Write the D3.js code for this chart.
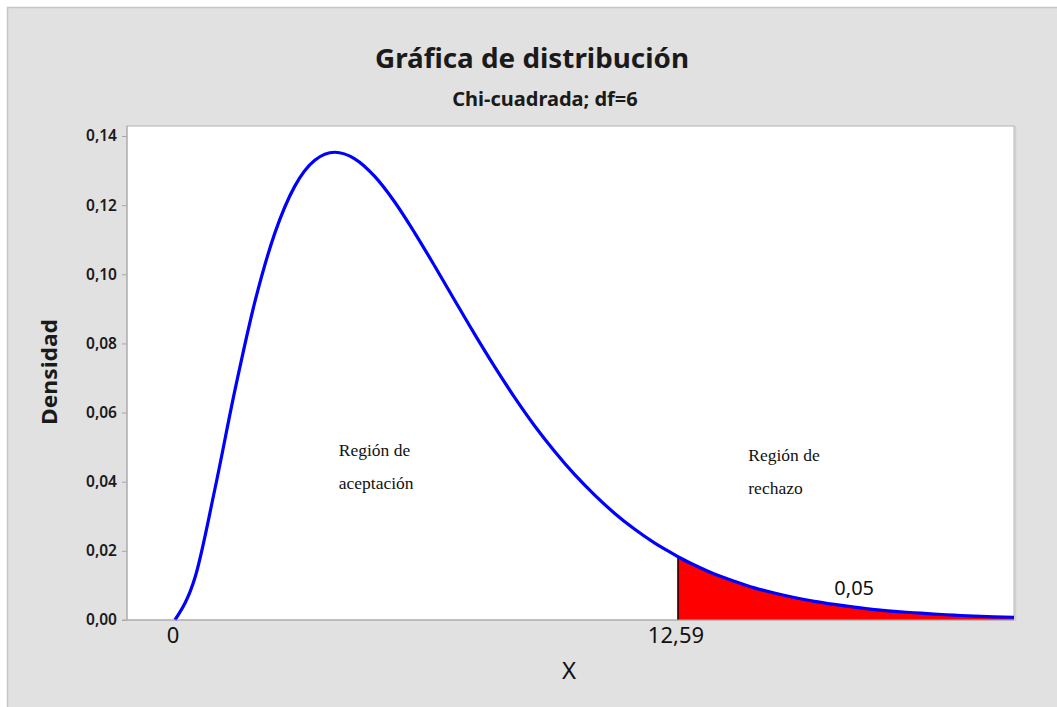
<!DOCTYPE html>
<html>
<head>
<meta charset="utf-8">
<script src="https://cdn.jsdelivr.net/npm/d3@7"></script>
<style>
  html, body { margin: 0; padding: 0; background: #ffffff; }
  svg { display: block; }
</style>
</head>
<body>
<svg id="chart" width="1057" height="707"></svg>
<script>
// ---- data ----
const xValues = [0,0.5,1,1.5,2,2.5,3,3.5,4,4.5,5,5.5,6,6.5,7,7.5,8,8.5,9,9.5,10,10.5,11,11.5,12,12.5,12.59,13,13.5,14,14.5,15,15.5,16,16.5,17,17.5,18,18.5,19,19.5,20,20.5,21];
const densityValues = [0,0.0122,0.0379,0.0664,0.0920,0.1119,0.1255,0.1330,0.1353,0.1334,0.1283,0.1209,0.1120,0.1024,0.0925,0.0827,0.0733,0.0644,0.0562,0.0488,0.0421,0.0362,0.0309,0.0263,0.0223,0.0189,0.0183,0.0159,0.0133,0.0112,0.0093,0.0078,0.0065,0.0054,0.0045,0.0037,0.0030,0.0025,0.0021,0.0017,0.0014,0.0011,0.0009,0.0008];
const yTickValues = [0,0.02,0.04,0.06,0.08,0.10,0.12,0.14];
const xTickValues = [0, 12.59];
const xTickLabels = ["0", "12,59"];
const criticalValue = 12.59;
const tailLabel = "0,05";
const titleText = "Gráfica de distribución";
const subtitleText = "Chi-cuadrada; df=6";
const xAxisTitle = "X";
const yAxisTitle = "Densidad";
const regionLabels = [
  {x: 4.1, y: 0.0475, lines: ["Región de", "aceptación"]},
  {x: 14.35, y: 0.0460, lines: ["Región de", "rechazo"]}
];

// ---- layout ----
const svg = d3.select("#chart");
const W = 1057, H = 707;
const plot = {left: 127, top: 126, right: 1014, bottom: 620};

const sans = "'Noto Sans', 'Open Sans', sans-serif";
const serif = "'Liberation Serif', 'DejaVu Serif', serif";
const locale = d3.formatLocale({decimal: ",", thousands: ".", grouping: [3], currency: ["", "€"]});
const fmt = locale.format(".2f");

// background
svg.append("rect").attr("x", 0).attr("y", 0).attr("width", W).attr("height", H).attr("fill", "#ffffff");
svg.append("rect").attr("x", 7.5).attr("y", 7.5).attr("width", W).attr("height", H)
  .attr("fill", "#e1e1e1").attr("stroke", "#c6c6c6").attr("stroke-width", 1.5);

// scales
const x = d3.scaleLinear().domain([-1.2, 21.0]).range([plot.left, plot.right]);
const y = d3.scaleLinear().domain([0, 0.14]).range([plot.bottom, 136]);

// plot area
svg.append("rect").attr("x", plot.left).attr("y", plot.top)
  .attr("width", plot.right - plot.left).attr("height", plot.bottom - plot.top)
  .attr("fill", "#ffffff").attr("stroke", "#b4b4b4").attr("stroke-width", 1);
svg.append("line").attr("x1", plot.right + 1.5).attr("x2", plot.right + 1.5)
  .attr("y1", plot.top).attr("y2", plot.bottom + 1).attr("stroke", "#cfcfcf").attr("stroke-width", 1.5);

const data = xValues.map((v, i) => ({x: v, y: densityValues[i]}));

// tail area
const tail = data.filter(d => d.x >= criticalValue);
const area = d3.area().x(d => x(d.x)).y0(y(0)).y1(d => y(d.y)).curve(d3.curveMonotoneX);
svg.append("path").datum(tail).attr("d", area).attr("fill", "#ff0000");

// critical line
const critY = densityValues[xValues.indexOf(criticalValue)];
svg.append("line").attr("x1", x(criticalValue)).attr("x2", x(criticalValue))
  .attr("y1", y(0)).attr("y2", y(critY)).attr("stroke", "#000000").attr("stroke-width", 1.5);

// curve
const line = d3.line().x(d => x(d.x)).y(d => y(d.y)).curve(d3.curveMonotoneX);
svg.append("path").datum(data).attr("d", line)
  .attr("fill", "none").attr("stroke", "#0000ff").attr("stroke-width", 3.2);

// y axis
const yAxis = d3.axisLeft(y).tickValues(yTickValues).tickFormat(fmt).tickSize(5).tickPadding(5);
const gy = svg.append("g").attr("transform", `translate(${plot.left},0)`).call(yAxis);
gy.select(".domain").attr("stroke", "#a9a9a9").attr("d", `M0,${plot.top}V${plot.bottom}`);
gy.selectAll(".tick line").attr("stroke", "#a9a9a9");
gy.selectAll(".tick text").attr("fill", "#1a1a1a").style("font-family", sans)
  .style("font-size", "15.5px").style("font-weight", "600");

// x axis (labels only)
const xAxis = d3.axisBottom(x).tickValues(xTickValues)
  .tickFormat((d, i) => xTickLabels[i]).tickSize(0).tickPadding(7);
const gx = svg.append("g").attr("transform", `translate(0,${plot.bottom})`).call(xAxis);
gx.select(".domain").attr("stroke", "#a9a9a9").attr("d", `M${plot.left - 5},0H${plot.right}`);
gx.selectAll(".tick text").attr("fill", "#111111").style("font-family", sans).style("font-size", "22px");
gx.selectAll(".tick").attr("transform", d => `translate(${x(d) - 2},0)`);

// titles
svg.append("text").attr("x", 532).attr("y", 68).attr("text-anchor", "middle")
  .style("font-family", sans).style("font-size", "27px").style("font-weight", "700")
  .attr("textLength", 314).attr("lengthAdjust", "spacingAndGlyphs")
  .attr("fill", "#1a1a1a").text(titleText);
svg.append("text").attr("x", 545).attr("y", 106).attr("text-anchor", "middle")
  .style("font-family", sans).style("font-size", "20px").style("font-weight", "700")
  .attr("fill", "#1a1a1a").text(subtitleText);
svg.append("text").attr("x", 569).attr("y", 679).attr("text-anchor", "middle")
  .style("font-family", sans).style("font-size", "24px")
  .attr("fill", "#111111").text(xAxisTitle);
svg.append("text").attr("transform", `translate(57,372) rotate(-90)`).attr("text-anchor", "middle")
  .style("font-family", sans).style("font-size", "22px").style("font-weight", "700")
  .attr("textLength", 106).attr("lengthAdjust", "spacingAndGlyphs")
  .attr("fill", "#1a1a1a").text(yAxisTitle);

// region labels
regionLabels.forEach(r => {
  const t = svg.append("text").attr("x", x(r.x)).attr("y", y(r.y))
    .style("font-family", serif).style("font-size", "17.5px").attr("fill", "#111111");
  r.lines.forEach((ln, i) => {
    t.append("tspan").attr("x", x(r.x)).attr("dy", i === 0 ? 0 : 33).text(ln);
  });
});

// tail probability label
svg.append("text").attr("x", x(17.0)).attr("y", y(0.0071)).attr("text-anchor", "middle")
  .style("font-family", sans).style("font-size", "20px").attr("fill", "#111111").text(tailLabel);
</script>
</body>
</html>
